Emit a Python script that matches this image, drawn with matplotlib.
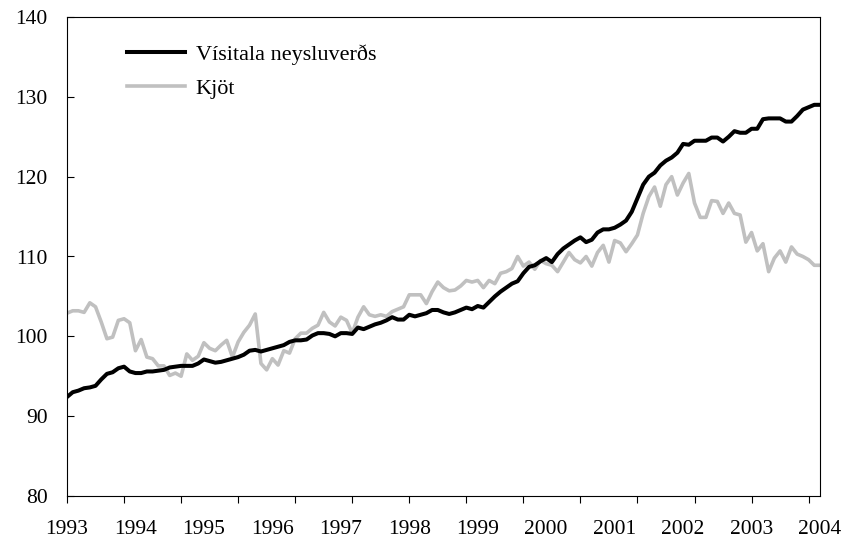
import numpy as np
import matplotlib
matplotlib.use("Agg")
import matplotlib.pyplot as plt
from matplotlib.ticker import FixedLocator, FixedFormatter

# monthly values, Jan 1993 - Jan 2004
visitala = [
    92.4, 93.0, 93.2, 93.5, 93.6, 93.8, 94.6, 95.3, 95.5, 96.0, 96.2, 95.6,
    95.4, 95.4, 95.6, 95.6, 95.7, 95.8, 96.1, 96.2, 96.3, 96.3, 96.3, 96.6,
    97.1, 96.9, 96.7, 96.8, 97.0, 97.2, 97.4, 97.7, 98.2, 98.3, 98.1, 98.3,
    98.5, 98.7, 98.9, 99.3, 99.5, 99.5, 99.6, 100.1, 100.4, 100.4, 100.3, 100.0,
    100.4, 100.4, 100.3, 101.1, 100.9, 101.2, 101.5, 101.7, 102.0, 102.4, 102.1, 102.1,
    102.7, 102.5, 102.7, 102.9, 103.3, 103.3, 103.0, 102.8, 103.0, 103.3, 103.6, 103.4,
    103.8, 103.6, 104.3, 105.0, 105.6, 106.1, 106.6, 106.9, 107.9, 108.7, 108.9, 109.4,
    109.8, 109.3, 110.3, 111.0, 111.5, 112.0, 112.4, 111.8, 112.1, 113.0, 113.4, 113.4,
    113.6, 114.0, 114.5, 115.6, 117.3, 119.0, 120.0, 120.5, 121.4, 122.0, 122.4, 123.0,
    124.1, 124.0, 124.5, 124.5, 124.5, 124.9, 124.9, 124.4, 125.0, 125.7, 125.5, 125.5,
    126.0, 126.0, 127.2, 127.3, 127.3, 127.3, 126.9, 126.9, 127.6, 128.4, 128.7, 129.0,
    129.0,
]
kjot = [
    102.9, 103.2, 103.2, 103.0, 104.2, 103.7, 101.8, 99.7, 99.9, 102.0, 102.2, 101.7,
    98.2, 99.6, 97.4, 97.2, 96.3, 96.3, 95.1, 95.4, 95.0, 97.8, 97.0, 97.5,
    99.2, 98.5, 98.2, 98.9, 99.5, 97.4, 99.3, 100.5, 101.4, 102.8, 96.6, 95.8,
    97.2, 96.4, 98.2, 97.9, 99.7, 100.4, 100.4, 101.0, 101.4, 103.0, 101.8, 101.3,
    102.4, 102.0, 100.4, 102.4, 103.7, 102.7, 102.5, 102.7, 102.5, 103.1, 103.4, 103.7,
    105.2, 105.2, 105.2, 104.1, 105.6, 106.8, 106.1, 105.7, 105.8, 106.3, 107.0, 106.8,
    107.0, 106.1, 107.0, 106.6, 107.9, 108.1, 108.5, 110.0, 108.8, 109.3, 108.4, 109.5,
    109.1, 108.9, 108.1, 109.3, 110.5, 109.6, 109.2, 110.0, 108.8, 110.5, 111.4, 109.3,
    112.0, 111.7, 110.6, 111.6, 112.7, 115.4, 117.5, 118.7, 116.3, 119.0, 120.0, 117.7,
    119.2, 120.4, 116.7, 114.9, 114.9, 117.0, 116.9, 115.4, 116.7, 115.4, 115.2, 111.8,
    113.0, 110.7, 111.6, 108.1, 109.8, 110.7, 109.3, 111.2, 110.3, 110.0, 109.6, 108.9,
    108.9,
]
years = [str(y) for y in range(1993, 2005)]

months = np.arange(len(visitala))

plt.rcParams['font.family'] = ['Liberation Serif', 'DejaVu Serif']

fig = plt.figure(figsize=(8.47, 5.42), dpi=100)
ax = fig.add_axes([67/847, 46/542, 753/847, 479/542])

ax.plot(months, visitala, color='black', lw=2.9, label='Vísitala neysluverðs', zorder=3)
ax.plot(months, kjot, color='#c0c0c0', lw=2.6, label='Kjöt', zorder=2)

ax.set_xlim(0, len(months) - 1)
ax.set_ylim(80, 140)
ax.set_yticks(range(80, 141, 10))

# tick marks every 10 months, year labels every 12
ax.xaxis.remove_overlapping_locs = False
ax.xaxis.set_major_locator(FixedLocator(list(range(0, len(months), 10))))
ax.xaxis.set_major_formatter(FixedFormatter([]))
ax.xaxis.set_minor_locator(FixedLocator(list(range(0, len(months), 12))))
ax.xaxis.set_minor_formatter(FixedFormatter(years))
ax.tick_params(axis='x', which='major', direction='out', length=5, width=0.8)
ax.tick_params(axis='x', which='minor', length=0, pad=17, labelsize=15.5)
ax.tick_params(axis='y', direction='in', length=5, width=0.8, pad=14, labelsize=15.5)

for s in ax.spines.values():
    s.set_linewidth(0.8)

ax.legend(loc='upper left', bbox_to_anchor=(0.053, 0.985), frameon=False,
          fontsize=16, handlelength=2.6, handletextpad=0.5, labelspacing=0.62)

fig.savefig('out.png', dpi=100)
